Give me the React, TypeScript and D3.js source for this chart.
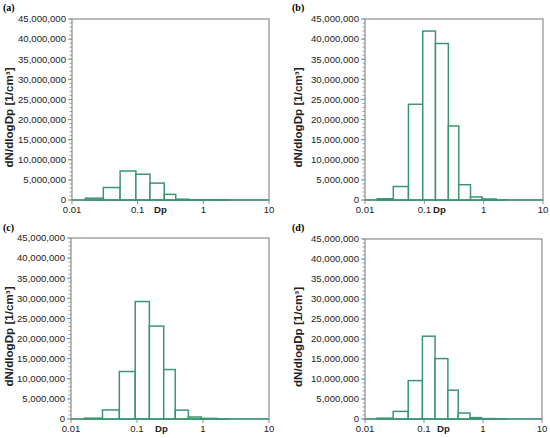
import React from 'react'
import * as d3 from 'd3'

// ELPI stage cut points (um) and dN/dlogDp per stage for each case
const binEdges = [0.01, 0.016, 0.03, 0.054, 0.094, 0.154, 0.254, 0.38, 0.6, 0.943, 1.62, 2.46, 3.64, 5.34, 10]
const valuesA = [0, 450000, 3100000, 7200000, 6400000, 4200000, 1400000, 200000, 50000, 20000, 10000, 0, 0, 0]
const valuesB = [0, 300000, 3350000, 23800000, 42000000, 38900000, 18400000, 3800000, 750000, 250000, 50000, 0, 0, 0]
const valuesC = [0, 200000, 2250000, 11800000, 29200000, 23100000, 12300000, 2200000, 500000, 150000, 30000, 0, 0, 0]
const valuesD = [0, 200000, 1900000, 9600000, 20700000, 15100000, 7200000, 1500000, 350000, 100000, 30000, 0, 0, 0]

const yTicks = [0, 5000000, 10000000, 15000000, 20000000, 25000000, 30000000, 35000000, 40000000, 45000000]
const xTicks = [0.01, 0.1, 1, 10]
const panelLabels = ['(a)', '(b)', '(c)', '(d)']

const GREEN = '#3b9670'
const FRAME = '#8c8c8c'
const FONT = "'Liberation Sans', Arial, sans-serif"

interface PanelProps {
  label: string
  values: number[]
  left: number
  right: number
  top: number
  bottom: number
  labelX: number
  labelY: number
  titleX: number
  dpX: number
}

const Panel = ({ label, values, left, right, top, bottom, labelX, labelY, titleX, dpX }: PanelProps) => {
  const x = d3.scaleLog().domain([0.01, 10]).range([left, right])
  const y = d3.scaleLinear().domain([0, 45000000]).range([bottom, top])
  const fmt = d3.format(',')
  const minor = d3.range(0, 45000001, 1000000)

  return (
    <g>
      <text x={labelX} y={labelY} fontFamily="'Liberation Serif', serif" fontWeight="bold" fontSize={10}>
        {label}
      </text>
      {/* frame */}
      <rect x={left} y={top} width={right - left} height={bottom - top} fill="none" stroke={FRAME} strokeWidth={1.2} />
      {minor.map((v) => (
        <line key={'m' + v} x1={left - 2.5} x2={left} y1={y(v)} y2={y(v)} stroke={FRAME} strokeWidth={0.8} />
      ))}
      {yTicks.map((v) => (
        <g key={'y' + v}>
          <line x1={left - 4} x2={left} y1={y(v)} y2={y(v)} stroke={FRAME} strokeWidth={1} />
          <text x={left - 6} y={y(v) + 3.3} textAnchor="end" fontFamily={FONT} fontSize={9.6} fill="#222">
            {fmt(v)}
          </text>
        </g>
      ))}
      {xTicks.map((v) => (
        <g key={'x' + v}>
          <line x1={x(v)} x2={x(v)} y1={bottom} y2={bottom + 4} stroke={FRAME} strokeWidth={1} />
          <text x={x(v)} y={bottom + 13} textAnchor="middle" fontFamily={FONT} fontSize={9.6} fill="#222">
            {String(v)}
          </text>
        </g>
      ))}
      {/* histogram */}
      {values.map((v, i) => (
        <rect
          key={'b' + i}
          x={x(binEdges[i])}
          y={y(v)}
          width={x(binEdges[i + 1]) - x(binEdges[i])}
          height={bottom - y(v)}
          fill="#fff"
          stroke={GREEN}
          strokeWidth={1.5}
        />
      ))}
      <line x1={left} x2={right} y1={bottom} y2={bottom} stroke={GREEN} strokeWidth={1.5} />
      <text x={dpX} y={bottom + 13} fontFamily={FONT} fontWeight="bold" fontSize={9.6} fill="#222">
        Dp
      </text>
      <text
        transform={`translate(${titleX},${(top + bottom) / 2 + 8}) rotate(-90)`}
        textAnchor="middle"
        fontFamily={FONT}
        fontWeight="bold"
        fontSize={10}
        textLength={100}
        lengthAdjust="spacingAndGlyphs"
        fill="#222"
      >
        dN/dlogDp [1/cm³]
      </text>
    </g>
  )
}

export default function App() {
  return (
    <svg
      width={550}
      height={438}
      style={{ position: 'absolute', left: 0, top: 0, background: '#fff' }}
    >
      <Panel label={panelLabels[0]} values={valuesA} left={72} right={269} top={19} bottom={200} labelX={3} labelY={11} titleX={13} dpX={154} />
      <Panel label={panelLabels[1]} values={valuesB} left={365} right={543} top={19} bottom={200} labelX={292} labelY={11} titleX={302} dpX={433} />
      <Panel label={panelLabels[2]} values={valuesC} left={71} right={269} top={238} bottom={419} labelX={3} labelY={231} titleX={13} dpX={155} />
      <Panel label={panelLabels[3]} values={valuesD} left={365} right={542} top={239} bottom={419} labelX={292} labelY={231} titleX={302} dpX={437} />
    </svg>
  )
}
